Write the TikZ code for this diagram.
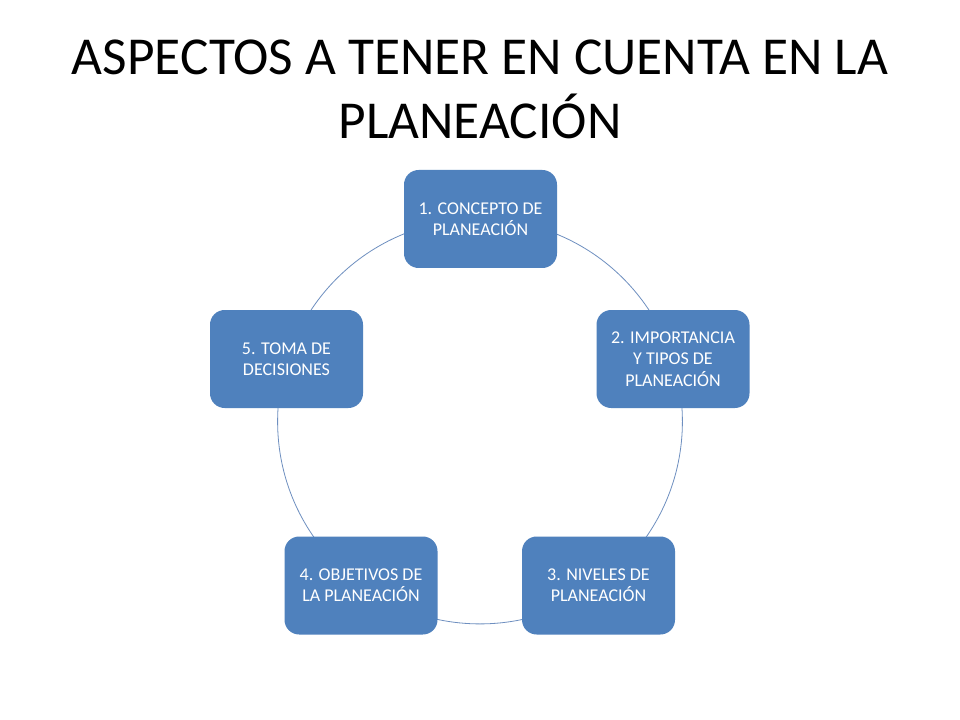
\documentclass[tikz,border=0pt]{standalone}
\usepackage{fontspec}
\setmainfont{Carlito}
\definecolor{boxblue}{HTML}{4F81BD}
\definecolor{arcblue}{HTML}{6E8FC0}
\begin{document}
\begin{tikzpicture}[x=0.75pt,y=-0.75pt,
  stepbox/.style={draw=none,fill=boxblue,rounded corners=11pt,minimum width=114.75pt,minimum height=73.5pt,
    text=white,align=center,font=\fontsize{13.5pt}{16pt}\selectfont,inner sep=0pt},
  titletext/.style={font=\fontsize{40pt}{48pt}\selectfont,inner sep=0pt,anchor=base}]
\useasboundingbox (0,0) rectangle (960,720);
\fill[white] (0,0) rectangle (960,720);
\node[titletext] (title1) at (480,75) {ASPECTOS A TENER EN CUENTA EN LA};
\node[titletext] (title2) at (480,139) {PLANEACIÓN};
\coordinate (c) at (480,421.5);
\draw[arcblue,line width=0.6pt] (c) circle[radius=151.8pt];
\node[stepbox] (b1) at (480.5,219) {1. CONCEPTO DE\\PLANEACIÓN};
\node[stepbox] (b2) at (673,359) {2. IMPORTANCIA\\Y TIPOS DE\\PLANEACIÓN};
\node[stepbox] (b3) at (598.5,585.5) {3. NIVELES DE\\PLANEACIÓN};
\node[stepbox] (b4) at (361,585.5) {4. OBJETIVOS DE\\LA PLANEACIÓN};
\node[stepbox] (b5) at (286.5,359) {5. TOMA DE\\DECISIONES};
\end{tikzpicture}
\end{document}
